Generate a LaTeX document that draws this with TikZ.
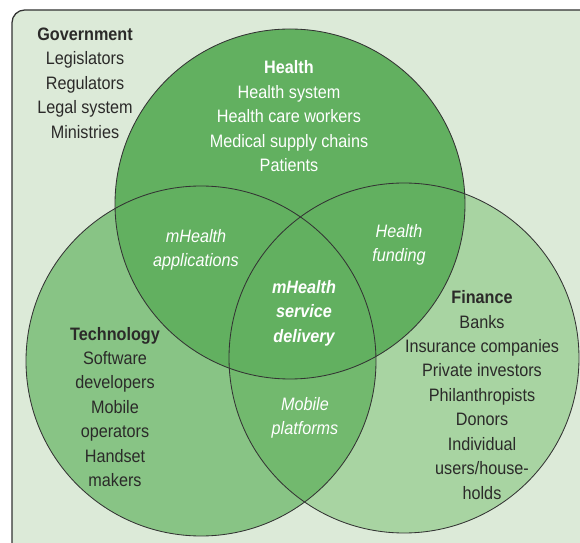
\documentclass[tikz,border=0pt]{standalone}
\usepackage{fontspec}
\setmainfont[FakeStretch=0.9]{Liberation Sans}
\definecolor{framegreen}{HTML}{DCEAD8}
\definecolor{healthgreen}{HTML}{62B060}
\definecolor{techgreen}{HTML}{88C485}
\definecolor{financegreen}{HTML}{A8D4A2}
\definecolor{mobilegreen}{HTML}{72B96E}
\definecolor{venntext}{HTML}{2B2A29}
\definecolor{vennline}{HTML}{333333}

\begin{document}
\begin{tikzpicture}[x=0.025cm,y=-0.025cm,font=\fontsize{12.8}{17.4}\selectfont]
        \tikzset{
            vennlabel/.style={
                align=center,
                text=venntext,
                inner sep=0pt
            },
            vennwhite/.style={vennlabel,text=white},
            vennitalic/.style={
                vennwhite,
                font=\fontsize{12.8}{17.4}\selectfont\itshape
            },
            vennbold/.style={
                vennwhite,
                font=\fontsize{12.8}{17.4}\selectfont\bfseries\itshape
            },
            vennedge/.style={
                draw=vennline,
                line width=0.6pt
            }
        }

        \useasboundingbox (0,0) rectangle (580,543);

        % frame
        \draw[fill=framegreen,draw=vennline,line width=0.9pt,rounded corners=9pt]
            (12,10) rectangle (600,570);

        \coordinate (healthc) at (290,204);
        \coordinate (techc) at (201,361);
        \coordinate (financec) at (404,358);

        % circles
        \fill[techgreen] (techc) circle[radius=175];
        \fill[financegreen] (financec) circle[radius=175];
        \begin{scope}
            \clip (techc) circle[radius=175];
            \fill[mobilegreen] (financec) circle[radius=175];
        \end{scope}
        \fill[healthgreen] (healthc) circle[radius=175];
        \draw[vennedge] (techc) circle[radius=175];
        \draw[vennedge] (financec) circle[radius=175];
        \draw[vennedge] (healthc) circle[radius=175];

        % labels
        \node[vennlabel] (government) at (85,83)
            {\textbf{Government}\\Legislators\\Regulators\\Legal system\\Ministries};
        \node[vennwhite] (health) at (289,116.5)
            {\textbf{Health}\\Health system\\Health care workers\\Medical supply chains\\Patients};
        \node[vennlabel] (technology) at (115,407)
            {\textbf{Technology}\\Software\\developers\\Mobile\\operators\\Handset\\makers};
        \node[vennlabel] (finance) at (482,395)
            {\textbf{Finance}\\Banks\\Insurance companies\\Private investors\\Philanthropists\\Donors\\Individual\\users/house-\\holds};

        \node[vennitalic] (applications) at (196,250)
            {mHealth\\applications};
        \node[vennitalic] (funding) at (399,245)
            {Health\\funding};
        \node[vennitalic] (platforms) at (305,418)
            {Mobile\\platforms};
        \node[vennbold] (delivery) at (304,313)
            {mHealth\\service\\delivery};
    \end{tikzpicture}
\end{document}
